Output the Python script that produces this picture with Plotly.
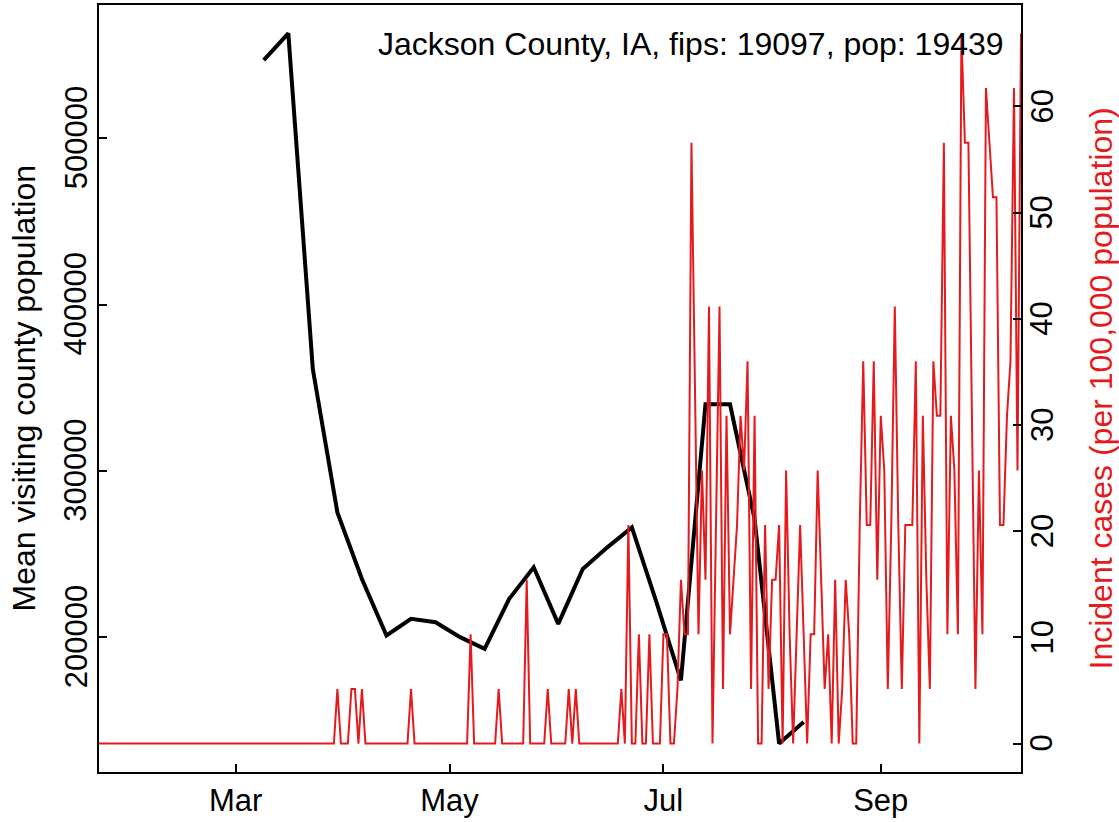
import datetime as dt
import plotly.graph_objects as go

# ---------------- data ----------------
COUNTY_TITLE = "Jackson County, IA, fips: 19097, pop: 19439"
POPULATION = 19439

# daily new cases, starting 2020-01-22
case_start = "2020-01-22"
daily_cases = [
    0, 0, 0, 0, 0, 0, 0, 0, 0, 0, 0, 0, 0, 0, 0, 0, 0, 0, 0, 0,
    0, 0, 0, 0, 0, 0, 0, 0, 0, 0, 0, 0, 0, 0, 0, 0, 0, 0, 0, 0,
    0, 0, 0, 0, 0, 0, 0, 0, 0, 0, 0, 0, 0, 0, 0, 0, 0, 0, 0, 0,
    0, 0, 0, 0, 0, 0, 0, 0, 1, 0, 0, 0, 1, 1, 0, 1, 0, 0, 0, 0,
    0, 0, 0, 0, 0, 0, 0, 0, 0, 1, 0, 0, 0, 0, 0, 0, 0, 0, 0, 0,
    0, 0, 0, 0, 0, 0, 2, 0, 0, 0, 0, 0, 0, 0, 1, 0, 0, 0, 0, 0,
    0, 0, 3, 0, 0, 0, 0, 0, 1, 0, 0, 0, 0, 0, 1, 0, 1, 0, 0, 0,
    0, 0, 0, 0, 0, 0, 0, 0, 0, 1, 0, 4, 0, 0, 2, 0, 0, 2, 0, 0,
    0, 2, 2, 0, 0, 1, 3, 2, 2, 11, 6, 2, 5, 3, 8, 0, 4, 8, 1, 6,
    2, 3, 4, 6, 5, 7, 1, 6, 0, 0, 4, 1, 3, 3, 4, 0, 5, 2, 0, 2,
    4, 2, 0, 2, 2, 5, 3, 1, 2, 0, 3, 0, 1, 3, 2, 0, 0, 4, 7, 4,
    4, 7, 3, 6, 5, 1, 4, 8, 4, 1, 4, 4, 4, 7, 0, 6, 3, 1, 7, 6,
    6, 11, 2, 6, 5, 2, 13, 11, 11, 6, 1, 5, 2, 12, 11, 10, 10, 4, 4, 6,
    7, 12, 5, 13,
]

# weekly mean visiting county population
mobility_dates = [
    "2020-03-09", "2020-03-16", "2020-03-23", "2020-03-30", "2020-04-06",
    "2020-04-13", "2020-04-20", "2020-04-27", "2020-05-04", "2020-05-11",
    "2020-05-18", "2020-05-25", "2020-06-01", "2020-06-08", "2020-06-15",
    "2020-06-22", "2020-06-29", "2020-07-06", "2020-07-13", "2020-07-20",
    "2020-07-27", "2020-08-03", "2020-08-10",
]
mobility_values = [
    547000, 563000, 361000, 275000, 235000,
    201000, 211000, 209000, 200000, 193000,
    223000, 242000, 208000, 241000, 254000,
    266000, 221000, 174000, 340000, 340000,
    271000, 136000, 149000,
]

x_tick_dates = ["2020-03-01", "2020-05-01", "2020-07-01", "2020-09-01"]
x_tick_labels = ["Mar", "May", "Jul", "Sep"]
left_ticks = [200000, 300000, 400000, 500000]
right_ticks = [0, 10, 20, 30, 40, 50, 60]

# ---------------- derived ----------------
d0 = dt.date.fromisoformat(case_start)
case_dates = [(d0 + dt.timedelta(days=i)).isoformat() for i in range(len(daily_cases))]
case_rate = [c * 100000.0 / POPULATION for c in daily_cases]


def padded(lo, hi, frac=0.04):
    p = (hi - lo) * frac
    return [lo - p, hi + p]


left_range = padded(min(mobility_values), max(mobility_values))
right_range = padded(min(case_rate), max(case_rate))

RED = "#E41A1C"
FONT = "Liberation Sans, Arial, Helvetica, sans-serif"
FS_TICK = 31
FS_TEXT = 32

common_axis = dict(
    ticks="inside", ticklen=8, tickwidth=1.5, tickcolor="black",
    showline=True, linecolor="black", linewidth=1.5,
    showgrid=False, zeroline=False, automargin=False,
    tickfont=dict(size=FS_TICK, family=FONT, color="black"),
)

fig = go.Figure()
fig.add_trace(go.Scatter(
    x=mobility_dates, y=mobility_values, mode="lines",
    line=dict(color="black", width=4), yaxis="y", hoverinfo="skip",
))
fig.add_trace(go.Scatter(
    x=case_dates, y=case_rate, mode="lines",
    line=dict(color=RED, width=2), yaxis="y2", hoverinfo="skip",
))

# rotated y tick labels (R style, parallel to the axis)
tick_annotations = []
for v in left_ticks:
    tick_annotations.append(dict(
        text=str(v), xref="paper", yref="y", x=0, y=v, xshift=-23,
        xanchor="center", yanchor="middle", textangle=-90, showarrow=False,
        font=dict(size=FS_TICK, family=FONT, color="black"),
    ))
for v in right_ticks:
    tick_annotations.append(dict(
        text=str(v), xref="paper", yref="y2", x=1, y=v, xshift=21,
        xanchor="center", yanchor="middle", textangle=-90, showarrow=False,
        font=dict(size=FS_TICK, family=FONT, color="black"),
    ))

fig.update_layout(
    width=1119, height=822,
    margin=dict(l=99, r=98, t=5, b=50, pad=0),
    paper_bgcolor="white", plot_bgcolor="white",
    showlegend=False,
    font=dict(family=FONT, size=FS_TICK, color="black"),
    xaxis=dict(
        type="date", range=[case_dates[0], case_dates[-1]],
        tickvals=x_tick_dates, ticktext=x_tick_labels,
        mirror=True, ticklabelstandoff=0,
        **common_axis,
    ),
    yaxis=dict(
        range=left_range, tickvals=left_ticks, showticklabels=False,
        **common_axis,
    ),
    yaxis2=dict(
        overlaying="y", side="right", range=right_range,
        tickvals=right_ticks, showticklabels=False,
        **common_axis,
    ),
    annotations=tick_annotations + [
        dict(text=COUNTY_TITLE, xref="paper", yref="paper", x=1, y=0.9492,
             xshift=-15, xanchor="right", yanchor="middle", showarrow=False,
             font=dict(size=FS_TEXT, family=FONT, color="black")),
        dict(text="Mean visiting county population", xref="paper", yref="paper",
             x=0, y=0.5, xshift=-76, xanchor="center", yanchor="middle",
             textangle=-90, showarrow=False,
             font=dict(size=FS_TEXT, family=FONT, color="black")),
        dict(text="Incident cases (per 100,000 population)", xref="paper", yref="paper",
             x=1, y=0.5, xshift=79, xanchor="center", yanchor="middle",
             textangle=-90, showarrow=False,
             font=dict(size=FS_TEXT, family=FONT, color=RED)),
    ],
)

fig.write_html(
    "out.html",
    config={"displayModeBar": False},
    post_script="document.body.style.margin='0px';document.body.style.padding='0px';",
)
